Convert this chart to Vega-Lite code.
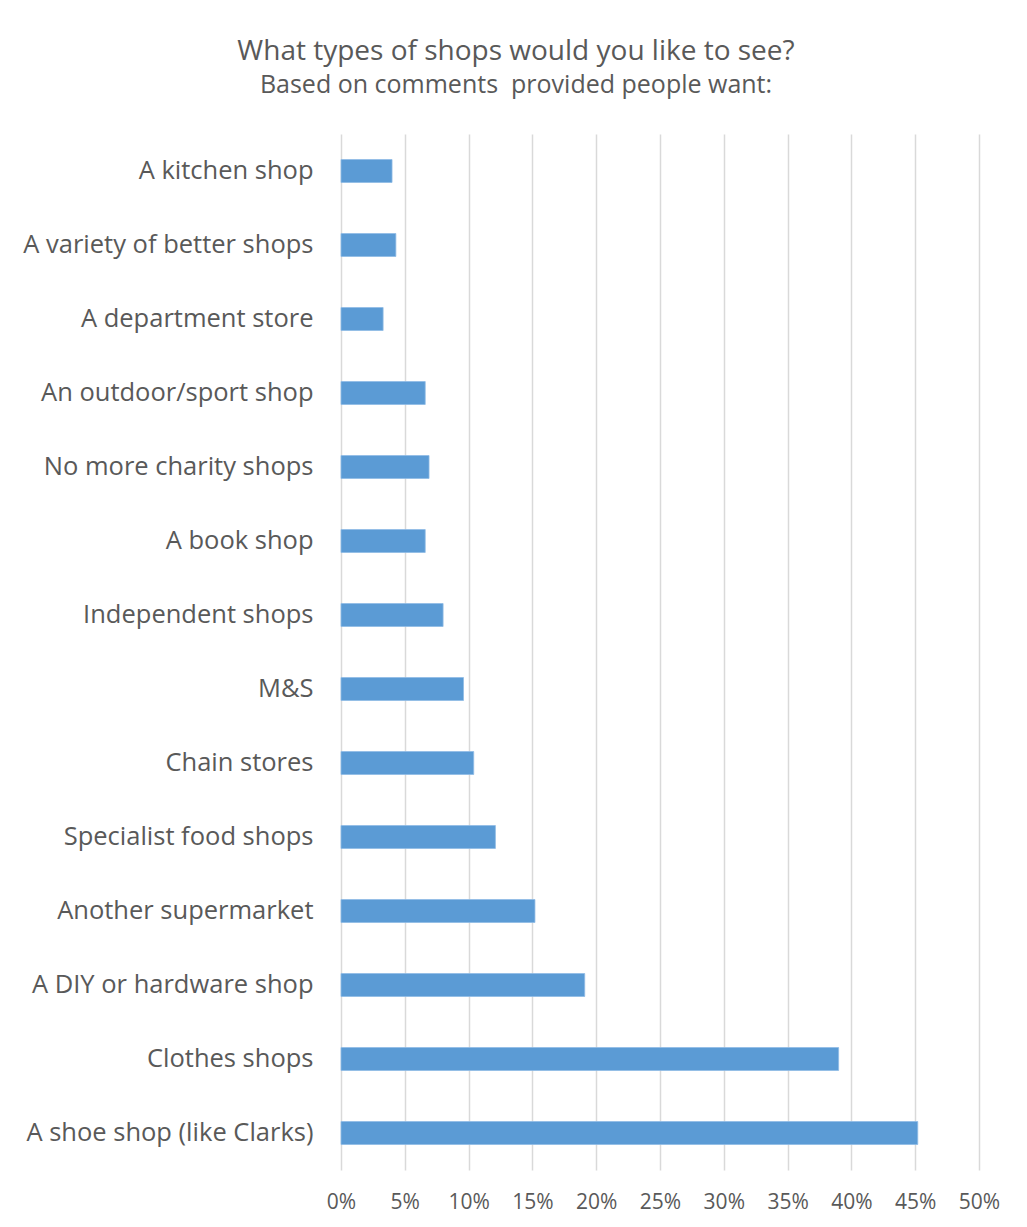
{
  "$schema": "https://vega.github.io/schema/vega-lite/v6.json",
  "width": 638,
  "height": 1036,
  "autosize": {"type": "none"},
  "padding": {"left": 341, "top": 134, "right": 48, "bottom": 57},
  "background": "white",
  "title": {
    "text": "What types of shops would you like to see?",
    "subtitle": "Based on comments\u00a0 provided people want:",
    "anchor": "middle",
    "dx": -144,
    "offset": 36,
    "font": "Open Sans",
    "fontSize": 28,
    "fontWeight": "normal",
    "color": "#595959",
    "subtitleFont": "Open Sans",
    "subtitleFontSize": 25,
    "subtitleColor": "#595959",
    "subtitlePadding": 7
  },
  "data": {
    "values": [
      {"shop": "A kitchen shop", "pct": 0.040},
      {"shop": "A variety of better shops", "pct": 0.043},
      {"shop": "A department store", "pct": 0.033},
      {"shop": "An outdoor/sport shop", "pct": 0.066},
      {"shop": "No more charity shops", "pct": 0.069},
      {"shop": "A book shop", "pct": 0.066},
      {"shop": "Independent shops", "pct": 0.080},
      {"shop": "M&S", "pct": 0.096},
      {"shop": "Chain stores", "pct": 0.104},
      {"shop": "Specialist food shops", "pct": 0.121},
      {"shop": "Another supermarket", "pct": 0.152},
      {"shop": "A DIY or hardware shop", "pct": 0.191},
      {"shop": "Clothes shops", "pct": 0.390},
      {"shop": "A shoe shop (like Clarks)", "pct": 0.452}
    ]
  },
  "mark": {"type": "bar", "color": "#5b9bd5", "stroke": "#8fbbe4", "strokeWidth": 0.8},
  "encoding": {
    "y": {
      "field": "shop",
      "type": "nominal",
      "sort": null,
      "title": null,
      "scale": {"paddingInner": 0.69, "paddingOuter": 0.345},
      "axis": {
        "domain": false,
        "ticks": false,
        "grid": false,
        "labelFont": "Open Sans",
        "labelFontSize": 25.5,
        "labelColor": "#595959",
        "labelPadding": 28,
        "labelLimit": 400
      }
    },
    "x": {
      "field": "pct",
      "type": "quantitative",
      "title": null,
      "scale": {"domain": [0, 0.5], "nice": false},
      "axis": {
        "values": [0, 0.05, 0.1, 0.15, 0.2, 0.25, 0.3, 0.35, 0.4, 0.45, 0.5],
        "format": ".0%",
        "domain": false,
        "ticks": false,
        "grid": true,
        "gridColor": "#d9d9d9",
        "gridWidth": 1.5,
        "labelFlush": false,
        "labelFont": "Open Sans",
        "labelFontSize": 21,
        "labelColor": "#595959",
        "labelPadding": 21
      }
    }
  },
  "config": {"view": {"stroke": null}}
}
